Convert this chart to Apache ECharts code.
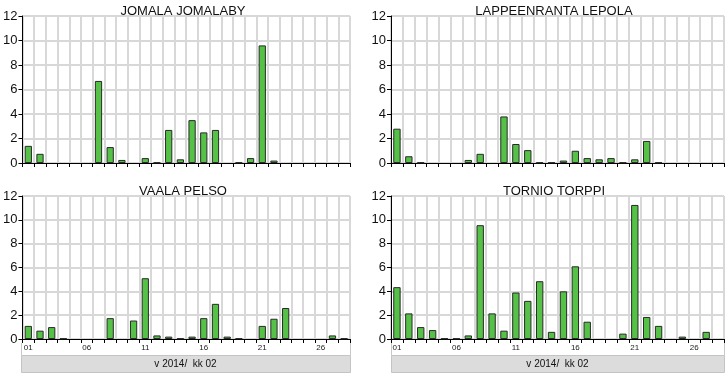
<!DOCTYPE html>
<html>
<head>
<meta charset="utf-8">
<script src="https://cdn.jsdelivr.net/npm/echarts@6/dist/echarts.min.js"></script>
<style>
  html, body { margin: 0; padding: 0; background: #fff; }
  #chart { width: 726px; height: 373px; }
</style>
</head>
<body>
<div id="chart"></div>
<script>
// päivät 01..28 (helmikuu 2014)
const days = Array.from({ length: 28 }, (_, i) => String(i + 1).padStart(2, '0'));
const stations = ['JOMALA JOMALABY', 'LAPPEENRANTA LEPOLA', 'VAALA PELSO', 'TORNIO TORPPI'];
const yTicks = [0, 2, 4, 6, 8, 10, 12];
const periodLabel = 'v 2014/  kk 02';

const jomala = [1.4, 0.75, 0, 0, 0, 0, 6.7, 1.3, 0.25, 0, 0.4, 0.05, 2.7, 0.3, 3.5, 2.5, 2.7, 0, 0.05, 0.4, 9.6, 0.2, 0, 0, 0, 0, 0, 0];
const lappeenranta = [2.8, 0.55, 0.05, 0, 0, 0, 0.25, 0.75, 0, 3.8, 1.55, 1.05, 0.05, 0.05, 0.2, 1.0, 0.4, 0.3, 0.4, 0.05, 0.3, 1.8, 0.05, 0, 0, 0, 0, 0];
const vaala = [1.1, 0.7, 1.0, 0.05, 0, 0, 0, 1.75, 0, 1.55, 5.1, 0.3, 0.2, 0.05, 0.2, 1.75, 2.95, 0.2, 0.05, 0, 1.1, 1.7, 2.6, 0, 0, 0, 0.3, 0.05];
const tornio = [4.35, 2.15, 1.0, 0.75, 0.05, 0.05, 0.3, 9.55, 2.15, 0.7, 3.9, 3.2, 4.85, 0.6, 4.0, 6.1, 1.45, 0, 0, 0.45, 11.25, 1.85, 1.1, 0, 0.2, 0, 0.6, 0];

const seriesData = [jomala, lappeenranta, vaala, tornio];

const chart = echarts.init(document.getElementById('chart'));

const font = 'Liberation Sans, Arial, sans-serif';
const panels = [
  { left: 21, top: 16, width: 329, height: 147, titleX: 178, titleY: 0, bottom: false },
  { left: 391, top: 16, width: 333, height: 147, titleX: 549, titleY: 0, bottom: false },
  { left: 21, top: 196, width: 329, height: 143, titleX: 178, titleY: 180, bottom: true },
  { left: 391, top: 196, width: 333, height: 143, titleX: 549, titleY: 180, bottom: true },
];

const graphics = [];
panels.forEach((p) => {
  if (!p.bottom) return;
  const boxTop = 355;
  graphics.push({
    type: 'rect',
    shape: { x: p.left + 0.5, y: boxTop + 0.5, width: p.width, height: 17 },
    style: { fill: '#dcdcdc', stroke: '#c4c4c4', lineWidth: 1 },
    silent: true,
  });
  graphics.push({
    type: 'line',
    shape: { x1: p.left + 0.5, y1: 343, x2: p.left + 0.5, y2: boxTop },
    style: { stroke: '#c8c8c8', lineWidth: 1 },
    silent: true,
  });
  graphics.push({
    type: 'line',
    shape: { x1: p.left + p.width + 0.5, y1: 343, x2: p.left + p.width + 0.5, y2: boxTop },
    style: { stroke: '#c8c8c8', lineWidth: 1 },
    silent: true,
  });
  graphics.push({
    type: 'text',
    x: p.left + p.width / 2,
    y: boxTop + 9,
    style: {
      text: periodLabel, fill: '#111', font: '10px ' + font,
      textAlign: 'center', textVerticalAlign: 'middle',
    },
    silent: true,
  });
});

const option = {
  animation: false,
  title: panels.map((p, i) => ({
    text: stations[i],
    left: p.titleX,
    top: p.titleY,
    textAlign: 'center',
    textStyle: { fontFamily: font, fontSize: 13, fontWeight: 'normal', color: '#111' },
  })),
  grid: panels.map((p) => ({
    left: p.left, top: p.top, width: p.width, height: p.height,
    show: true, borderColor: '#c4c4c4', borderWidth: 1,
  })),
  xAxis: panels.map((p, i) => ({
    type: 'category',
    gridIndex: i,
    data: days,
    boundaryGap: true,
    axisLine: { lineStyle: { color: '#000', width: 1 } },
    axisTick: { show: true, interval: 0, length: 4, lineStyle: { color: '#000' } },
    axisLabel: {
      show: p.bottom, interval: 4, fontSize: 8, color: '#222', fontFamily: font, margin: 5,
    },
    splitLine: { show: true, interval: 0, lineStyle: { color: '#d8d8d8', width: 2 } },
  })),
  yAxis: panels.map((p, i) => ({
    type: 'value',
    gridIndex: i,
    min: yTicks[0],
    max: yTicks[yTicks.length - 1],
    interval: 2,
    axisLine: { show: true, lineStyle: { color: '#000', width: 1 } },
    axisTick: { show: true, length: 4, lineStyle: { color: '#000' } },
    axisLabel: { fontSize: 13, color: '#111', fontFamily: font, margin: 5 },
    splitLine: { show: true, lineStyle: { color: '#d8d8d8', width: 2 } },
  })),
  series: seriesData.map((d, i) => ({
    type: 'bar',
    name: stations[i],
    xAxisIndex: i,
    yAxisIndex: i,
    // nollapäiville ei piirretä pylvästä
    data: d.map((v) => (v === 0 ? null : v)),
    barWidth: '62%',
    itemStyle: { color: '#55c247', borderColor: '#2a2a2a', borderWidth: 1 },
  })),
  graphic: graphics,
};

chart.setOption(option);
</script>
</body>
</html>
